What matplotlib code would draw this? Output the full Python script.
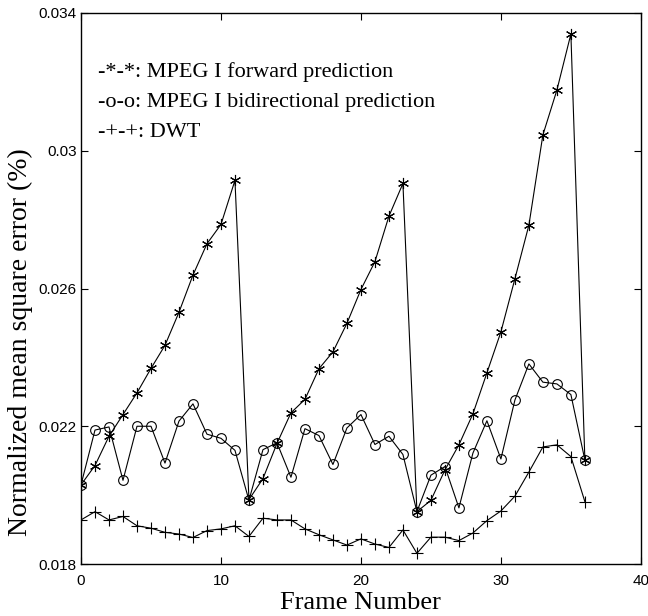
import matplotlib
matplotlib.use('Agg')
from matplotlib import pyplot

frames = list(range(37))

forward = [0.02030, 0.02086, 0.02171, 0.02234, 0.02297, 0.02368, 0.02435,
           0.02531, 0.02639, 0.02730, 0.02786, 0.02914, 0.01987, 0.02048,
           0.02150, 0.02239, 0.02278, 0.02367, 0.02416, 0.02499, 0.02597,
           0.02678, 0.02810, 0.02905, 0.01952, 0.01985, 0.02073, 0.02146,
           0.02236, 0.02355, 0.02474, 0.02628, 0.02784, 0.03046, 0.03176,
           0.03339, 0.02102]

bidirectional = [0.02030, 0.02189, 0.02198, 0.02043, 0.02200, 0.02200,
                 0.02093, 0.02215, 0.02265, 0.02177, 0.02165, 0.02130,
                 0.01985, 0.02132, 0.02152, 0.02052, 0.02193, 0.02173,
                 0.02089, 0.02195, 0.02234, 0.02147, 0.02171, 0.02118,
                 0.01952, 0.02058, 0.02083, 0.01963, 0.02122, 0.02216,
                 0.02105, 0.02276, 0.02381, 0.02328, 0.02323, 0.02292,
                 0.02102]

dwt = [0.01928, 0.01952, 0.01928, 0.01938, 0.01911, 0.01904, 0.01892,
       0.01887, 0.01877, 0.01897, 0.01902, 0.01911, 0.01880, 0.01933,
       0.01928, 0.01928, 0.01902, 0.01885, 0.01870, 0.01855, 0.01873,
       0.01858, 0.01848, 0.01899, 0.01831, 0.01878, 0.01878, 0.01868,
       0.01890, 0.01926, 0.01954, 0.01997, 0.02067, 0.02140, 0.02146,
       0.02112, 0.01981]

x_ticks = [0, 10, 20, 30, 40]
y_ticks = [0.018, 0.022, 0.026, 0.03, 0.034]
y_tick_labels = ['0.018', '0.022', '0.026', '0.03', '0.034']

legend_lines = ['-*-*: MPEG I forward prediction',
                '-o-o: MPEG I bidirectional prediction',
                '-+-+: DWT']


def main():
  fig = pyplot.figure(figsize=(6.48, 6.16), dpi=100)
  ax = fig.add_axes([0.125, 0.0844, 0.864, 0.8945])

  style = dict(color='black', linewidth=0.8)
  ax.plot(frames, forward, marker=(6, 2, 0), markersize=8,
          markeredgewidth=0.8, **style)
  ax.plot(frames, bidirectional, marker='o', markersize=7,
          markerfacecolor='none', markeredgewidth=0.8, **style)
  ax.plot(frames, dwt, marker='+', markersize=8,
          markeredgewidth=0.8, **style)

  ax.set_xlim(0, 40)
  ax.set_ylim(0.018, 0.034)
  ax.set_xticks(x_ticks)
  ax.set_xticklabels([str(t) for t in x_ticks],
                     family='Liberation Sans', fontsize=11)
  ax.set_yticks(y_ticks)
  ax.set_yticklabels(y_tick_labels, family='Liberation Sans', fontsize=11)
  ax.tick_params(direction='in', top=True, right=True, length=5,
                 width=0.8)
  ax.tick_params(axis='x', pad=7)
  ax.tick_params(axis='y', pad=3)
  for spine in ax.spines.values():
    spine.set_linewidth(1.0)

  ax.set_xlabel('Frame Number', family='Liberation Serif', fontsize=19,
                labelpad=3)
  ax.set_ylabel('Normalized mean square error (%)',
                family='Liberation Serif', fontsize=20)
  ax.yaxis.set_label_coords(-0.085, 0.403)

  for i, line in enumerate(legend_lines):
    ax.text(0.03, 0.893 - i * 0.055, line, transform=ax.transAxes,
            family='Liberation Serif', fontsize=16, va='center', ha='left')

  fig.savefig('out.png', dpi=100)

if __name__ == '__main__':
  main()
